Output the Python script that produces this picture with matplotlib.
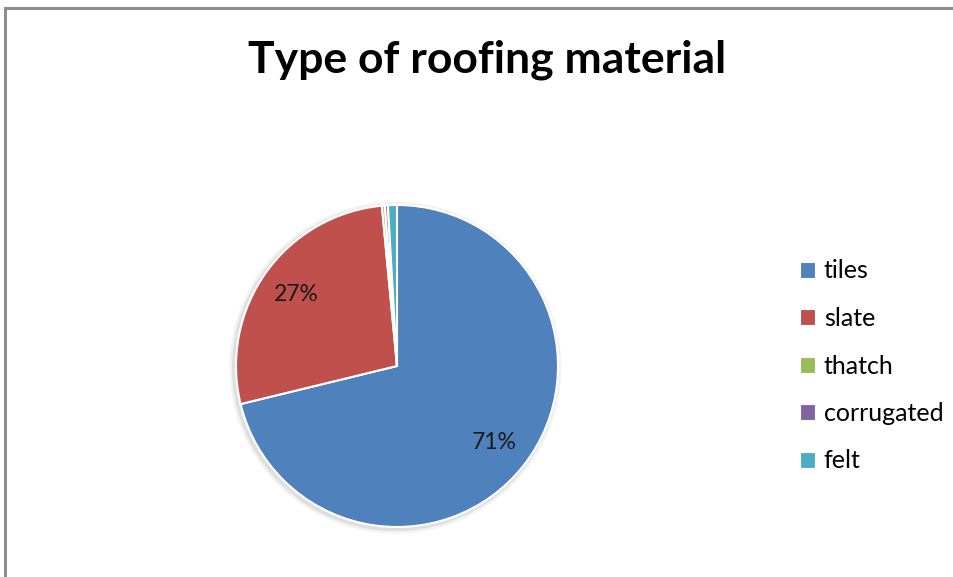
import matplotlib.pyplot as plt
from matplotlib.patches import Rectangle, Circle
from matplotlib.lines import Line2D

plt.rcParams['font.family'] = ['Lato', 'DejaVu Sans']

# Data
materials = ['tiles', 'slate', 'thatch', 'corrugated', 'felt']
shares = [71.2, 27.3, 0.3, 0.3, 0.9]
colors = ['#4F81BD', '#C0504D', '#9BBB59', '#8064A2', '#4BACC6']

fig = plt.figure(figsize=(9.54, 5.77), dpi=100)

# outer frame (only top and left edges visible)
fig.add_artist(Line2D([5 / 954, 5 / 954], [0, 1 - 8 / 577], color='#8c8c8c', lw=2.2))
fig.add_artist(Line2D([5 / 954, 1], [1 - 8 / 577, 1 - 8 / 577], color='#8c8c8c', lw=2.2))

fig.text(487 / 954, 1 - 60 / 577, 'Type of roofing material', ha='center', va='center',
         fontsize=32, fontweight='bold', color='black')

ax = fig.add_axes([(397 - 161) / 954, (577 - 527) / 577, 322 / 954, 322 / 577])

# faint shadow behind the pie
for r, a in [(1.03, 0.05), (1.015, 0.08)]:
    ax.add_patch(Circle((-0.01, -0.01), r, color='black', alpha=a, lw=0,
                        zorder=0, clip_on=False))


def pct(v):
    return f'{v:.0f}%' if v > 5 else ''


wedges, texts, autotexts = ax.pie(
    shares, colors=colors, startangle=90, counterclock=False, radius=1,
    autopct=pct, pctdistance=0.77,
    wedgeprops=dict(edgecolor='white', linewidth=1.5),
    textprops=dict(fontsize=16.5, color='#1a1a1a'))
ax.set_xlim(-1, 1)
ax.set_ylim(-1, 1)
ax.set_aspect('equal')
ax.axis('off')

handles = [Rectangle((0, 0), 1, 1, facecolor=c, edgecolor='white', lw=0.8) for c in colors]
fig.legend(handles, materials, loc='center left',
           bbox_to_anchor=(800 / 954, (577 - 366) / 577),
           frameon=False, fontsize=18, labelspacing=0.98,
           handlelength=0.6, handleheight=0.6, handletextpad=0.35,
           borderpad=0, borderaxespad=0)

fig.savefig('out.png', dpi=100)
